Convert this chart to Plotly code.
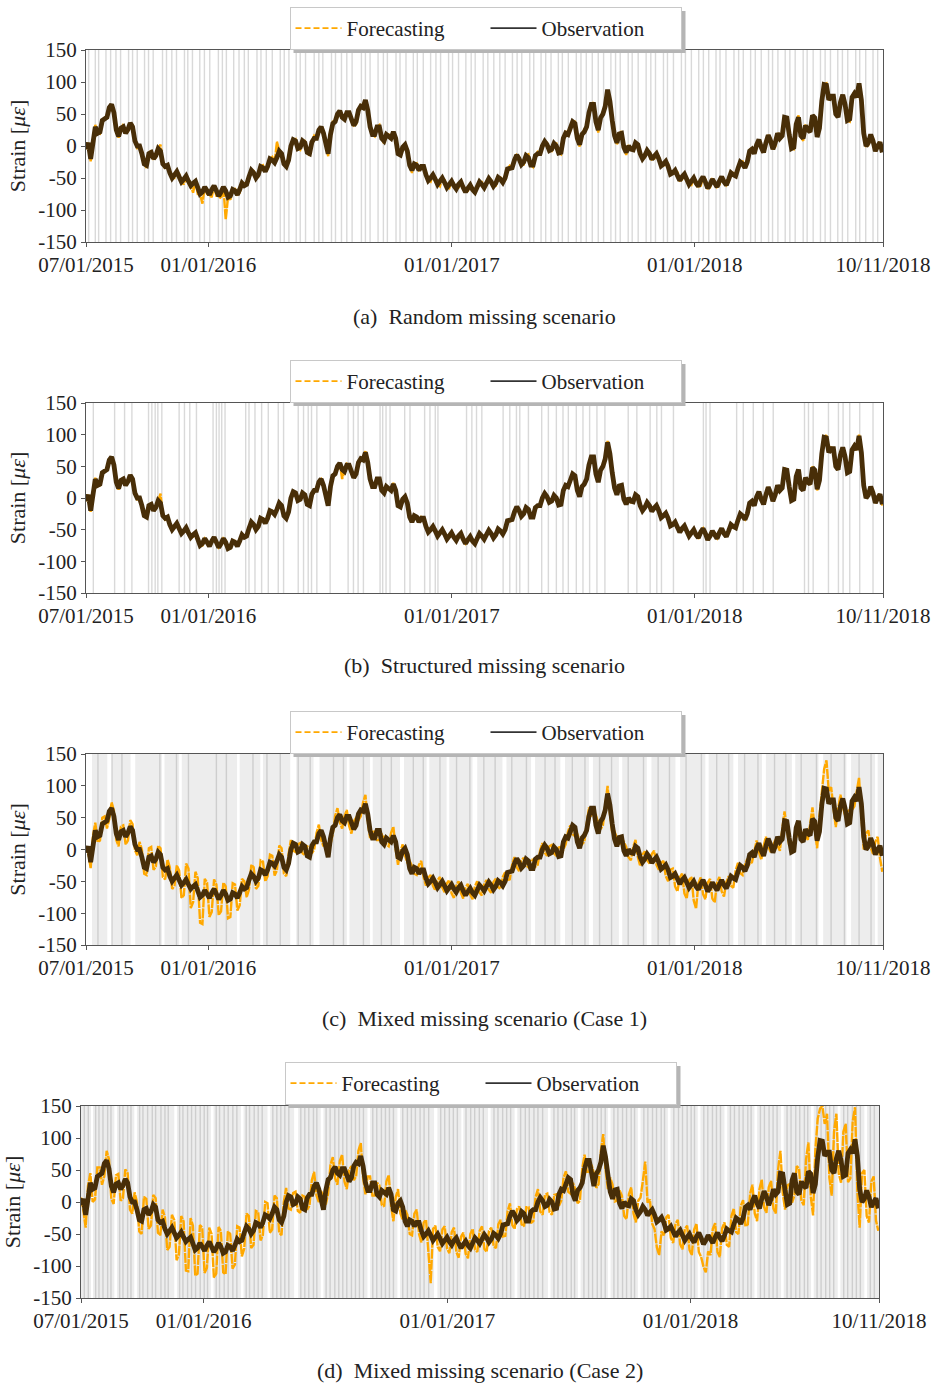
import plotly.graph_objects as go
import pandas as pd

START = "2015-07-01"
END = "2018-10-11"

# Observation (weekly samples), micro-strain
OBS = [
    -5, -20, 30, 22, 42, 60, 52, 15, 30, 26,
    30, 0, -12, -30, -10, -15, -8, -32, -42, -45,
    -48, -52, -55, -58, -65, -72, -70, -68, -70, -72,
    -70, -78, -70, -68, -62, -48, -42, -45, -34, -32,
    -22, -18, -12, -32, 0, 8, -2, 5, -12, 12,
    25, 20, -12, 35, 50, 45, 52, 40, 38, 62,
    72, 30, 18, 30, 8, 15, 22, -12, -2, -8,
    -38, -30, -32, -45, -50, -52, -55, -57, -60, -62,
    -60, -65, -66, -68, -64, -60, -58, -56, -58, -52,
    -50, -35, -22, -20, -25, -18, -30, -12, 0, 2,
    -5, 0, -10, 20, 28, 35, 2, 22, 52, 65,
    25, 50, 88, 40, 5, 20, -10, -5, 5, -12,
    -15, -12, -16, -20, -28, -32, -42, -46, -48, -52,
    -55, -58, -54, -56, -60, -58, -55, -56, -52, -45,
    -35, -28, -25, -5, 2, -2, 5, 8, 5, 12,
    45, 18, -2, 45, 12, 25, 48, 14, 70, 95,
    78, 50, 68, 65, 42, 82, 98, 20, 5, 8,
    0, -10,
]
# Observation half a week after each weekly sample (short-term swings)
OBS_MID = [
    5, 10, 20, 40, 45, 65, 25, 28, 20, 36,
    8, 0, -28, -12, -20, -4, -28, -30, -50, -40,
    -56, -47, -62, -55, -75, -64, -76, -62, -78, -64,
    -80, -68, -76, -58, -60, -38, -50, -32, -40, -20,
    -26, -8, -28, -22, 10, -4, 8, -10, 6, 12,
    30, 0, 18, 38, 55, 42, 52, 32, 56, 60,
    56, 18, 30, 12, 18, 12, 12, -14, 2, -30,
    -28, -38, -32, -54, -45, -60, -50, -65, -55, -67,
    -56, -72, -61, -72, -56, -65, -51, -63, -49, -57,
    -36, -34, -14, -29, -15, -30, -15, -12, 7, -7,
    4, -11, 12, 18, 38, 12, 18, 30, 65, 38,
    44, 62, 70, 16, 19, -2, 0, -6, 2, -20,
    -7, -21, -12, -31, -24, -44, -38, -54, -44, -60,
    -50, -63, -48, -66, -52, -64, -48, -61, -42, -47,
    -25, -34, -8, -12, 10, -10, 17, -5, 20, 16,
    44, -4, 34, 16, 32, 22, 44, 28, 96, 72,
    78, 45, 80, 40, 76, 76, 72, 0, 18, -8,
    6,
]

# Forecast error (forecast - observation) at the weekly samples, per scenario
DEV_A = [
    0, -4, 3, -3, 2, -4, 3, -2, 4, -3,
    3, -3, 4, -4, 3, -3, 10, -4, 3, -5,
    4, -8, 3, -15, -10, -18, -5, -12, -8, -10,
    -45, -6, 3, -5, 4, -4, 3, -3, 4, -3,
    5, 25, -3, 4, -3, 3, -4, 3, -3, 4,
    -3, 3, -4, 3, -5, 4, -3, 3, -4, 3,
    -3, 4, -3, 3, -4, 3, -3, 4, -3, 3,
    -4, 3, -3, 4, -6, 3, -8, 4, -6, 3,
    -5, 3, -4, 3, -3, 4, -3, 3, -4, 3,
    -3, 4, -3, 3, -4, 5, -3, 3, -4, 3,
    -3, 4, -3, 3, -4, 3, -3, 4, -5, 3,
    -4, 3, -3, 4, -3, 3, -4, 3, -3, 4,
    -3, 3, -4, 3, -3, 4, -3, 5, -4, 3,
    -6, 3, -8, 4, -5, 3, -6, 3, -4, 3,
    -3, 4, -3, 3, -4, 3, -3, 4, -6, 3,
    -3, 4, -3, 3, -4, 5, -3, 3, -4, 3,
    -3, 4, -3, 3, -4, 3, -3, 8, -4, 3,
    -3, 4,
]
DEV_B = [
    0, -2, 2, -2, 2, -2, 2, -2, 2, -2,
    2, -2, 2, -2, 2, -2, 15, -2, 2, -2,
    2, -2, 2, -3, 2, -3, 2, -2, 2, -2,
    2, -2, 2, -2, 2, -2, 2, -2, 2, -2,
    2, -2, 2, -2, 2, -2, 2, -2, 2, -2,
    2, -2, 2, -2, 2, -15, 2, -2, 2, -2,
    2, -2, 2, -2, 2, -2, 2, -2, 2, -2,
    2, -2, 2, -2, 2, -2, 2, -2, 2, -2,
    2, -2, 2, -2, 2, -2, 2, -2, 2, -2,
    2, -2, 2, -2, 2, -2, 2, -2, 2, -2,
    2, -2, 2, -2, 2, -2, 2, -2, 2, -2,
    2, -2, 2, -2, 2, -2, 2, -2, 2, -2,
    2, -2, 2, -2, 2, -2, 2, -2, 2, -2,
    2, -3, 2, -3, 2, -2, 2, -2, 2, -2,
    2, -2, 2, -2, 2, -2, 2, -2, 2, -2,
    2, -2, 2, -2, 2, -2, 2, -2, 3, 4,
    2, -2, 2, -2, 2, -2, 2, -2, 2, -2,
    2, -2,
]
DEV_C = [
    8, -10, 12, -8, 10, -12, 9, -10, 8, -12,
    10, -9, 12, -10, 14, -12, 10, -15, 14, -12,
    15, -20, 25, -25, 20, -45, 18, -30, 15, -25,
    12, -28, 15, -20, 12, -15, 14, -12, 15, -10,
    12, -15, 14, -10, 15, -12, 12, -14, 15, -12,
    14, -15, 12, -10, 15, -12, 10, -15, 12, -10,
    14, -12, 10, -15, 12, -10, 14, -12, 10, -12,
    12, -10, 14, -12, 10, -12, 12, -10, 12, -14,
    10, -12, 12, -10, 14, -12, 10, -12, 12, -10,
    14, -12, 10, -14, 12, -10, 14, -12, 10, -12,
    12, -10, 14, -12, 10, -14, 12, -10, 14, -12,
    16, -12, 12, -14, 12, -10, 14, -12, 10, -14,
    12, -10, 14, -12, 10, -18, 12, -20, 10, -25,
    12, -35, 10, -22, 14, -25, 12, -18, 10, -15,
    14, -12, 10, -15, 12, -14, 15, -12, 10, -14,
    15, -12, 14, -15, 12, -10, 18, -12, 25, 45,
    20, -15, 18, -12, 20, -14, 15, -20, 25, -15,
    20, -25,
]
DEV_D = [
    12, -20, 15, -18, 12, -20, 15, -18, 14, -20,
    15, -18, 12, -20, 15, -22, 14, -20, 18, -25,
    20, -30, 25, -50, 28, -40, 30, -35, 20, -40,
    25, -35, 20, -30, 22, -25, 20, -22, 18, -20,
    20, -25, 18, -20, 22, -20, 18, -22, 20, -18,
    22, -20, 18, -22, 20, -18, 22, -20, 18, -22,
    20, -18, 22, -20, 18, -22, 20, -18, 22, -20,
    18, -22, 20, -18, 22, -75, 18, -20, 22, -18,
    20, -22, 18, -20, 22, -18, 20, -22, 18, -20,
    22, -18, 20, -22, 18, -20, 22, -18, 20, -22,
    18, -20, 22, -18, 20, -22, 18, -20, 22, -18,
    20, -22, 18, -20, 22, -18, 20, -22, 18, -20,
    22, 75, 20, -22, -55, -20, 22, -18, 20, -22,
    18, -25, 20, -30, -50, -25, 22, -30, 20, -25,
    25, -22, 28, -30, 25, -28, 30, -25, 28, -30,
    35, -30, 30, -35, 40, -30, 45, -35, 60, 55,
    60, -40, 70, -35, 80, -45, 50, -60, 45, -40,
    40, -35,
]
# Forecast error at the mid-week samples (scenarios c and d; a and b track the observation)
DEV_C_MID = [
    -10, 12, -8, 10, -12, 9, -10, 8, -12, 10,
    -9, 12, -10, 14, -12, 10, -15, 14, -12, 15,
    -20, 25, -30, 20, -40, 18, -30, 15, -25, 12,
    -28, 15, -20, 12, -15, 14, -12, 15, -10, 12,
    -15, 14, -10, 15, -12, 12, -14, 15, -12, 14,
    -15, 12, -10, 15, -12, 10, -15, 12, -10, 14,
    -12, 10, -15, 12, -10, 14, -12, 10, -12, 12,
    -10, 14, -12, 10, -12, 12, -10, 12, -14, 10,
    -12, 12, -10, 14, -12, 10, -12, 12, -10, 14,
    -12, 10, -14, 12, -10, 14, -12, 10, -12, 12,
    -10, 14, -12, 10, -14, 12, -10, 14, -12, 16,
    -12, 12, -14, 12, -10, 14, -12, 10, -14, 12,
    -10, 14, -12, 10, -18, 12, -20, 10, -25, 12,
    -30, 10, -22, 14, -25, 12, -18, 10, -15, 14,
    -12, 10, -15, 12, -14, 15, -12, 10, -14, 15,
    -12, 14, -15, 12, -10, 18, -12, 25, 30, 20,
    -15, 18, -12, 20, -14, 15, -20, 25, -15, 20,
    -20,
]
DEV_D_MID = [
    -18, 15, -20, 14, -18, 15, -20, 14, -18, 15,
    -20, 15, -18, 20, -22, 15, -20, 18, -25, 20,
    -35, 25, -45, 30, -40, 28, -35, 22, -40, 25,
    -30, 22, -28, 20, -25, 20, -22, 18, -20, 20,
    -22, 18, -20, 22, -20, 18, -22, 20, -18, 22,
    -20, 18, -22, 20, -18, 22, -20, 18, -22, 20,
    -18, 22, -20, 18, -22, 20, -18, 22, -20, 18,
    -22, 20, -18, 22, -40, 18, -20, 22, -18, 20,
    -22, 18, -20, 22, -18, 20, -22, 18, -20, 22,
    -18, 20, -22, 18, -20, 22, -18, 20, -22, 18,
    -20, 22, -18, 20, -22, 18, -20, 22, -18, 20,
    -22, 18, -20, 22, -18, 20, -22, 18, -20, 22,
    40, 20, -22, -40, -22, 20, -18, 20, -22, 18,
    -25, 20, -30, -35, -25, 22, -30, 20, -25, 25,
    -22, 28, -30, 25, -28, 30, -25, 28, -30, 35,
    -30, 30, -35, 40, -30, 45, -35, 55, 50, 50,
    -40, 65, -35, 70, -45, 50, -55, 45, -40, 40,
    -35,
]

# Missing-data markers: day offsets from START
MISSING_A_DAYS = [
    4, 14, 19, 30, 37, 45, 52, 64, 70, 77, 88, 94, 101, 115, 121, 129, 136, 148,
    153, 160, 171, 178, 186, 199, 205, 211, 222, 230, 238, 244, 257, 263, 271, 280,
    292, 298, 305, 316, 322, 330, 343, 350, 356, 369, 375, 384, 392, 400, 414, 420,
    427, 439, 447, 453, 466, 472, 481, 492, 498, 507, 518, 526, 533, 545, 551, 560,
    571, 579, 585, 597, 604, 613, 622, 630, 641, 648, 655, 667, 673, 684, 691, 699,
    710, 716, 725, 737, 744, 752, 761, 770, 778, 789, 796, 803, 815, 821, 830, 842,
    849, 856, 868, 874, 883, 895, 901, 910, 921, 928, 936, 947, 953, 962, 974, 981,
    988, 999, 1006, 1015, 1026, 1032, 1040, 1051, 1058, 1066, 1078, 1084, 1093,
    1104, 1111, 1119, 1130, 1137, 1145, 1157, 1163, 1172, 1183, 1190,
]
MISSING_B_DAYS = [
    11, 43, 58, 69, 94, 99, 104, 108, 114, 140, 148, 156, 166, 191, 196, 200, 204,
    209, 240, 245, 254, 264, 274, 289, 297, 319, 327, 334, 339, 347, 367, 394, 402,
    409, 417, 442, 446, 451, 457, 479, 487, 509, 517, 525, 529, 572, 580, 587, 595,
    627, 637, 647, 652, 665, 685, 695, 707, 717, 725, 737, 747, 757, 768, 780, 815,
    828, 848, 858, 865, 883, 928, 932, 938, 978, 988, 1003, 1018, 1033, 1080, 1086,
    1093, 1116, 1131, 1138, 1148, 1163, 1183,
]
MISSING_C_SPANS = [
    [9, 31], [39, 66], [74, 113], [118, 139], [144, 226], [231, 261], [266, 306],
    [316, 341], [351, 391], [396, 426], [431, 471], [478, 511], [516, 541],
    [546, 580], [588, 625], [632, 668], [675, 712], [720, 755], [762, 800],
    [806, 842], [850, 885], [893, 930], [936, 972], [980, 1015], [1022, 1060],
    [1066, 1100], [1108, 1142], [1150, 1185], [1190, 1197],
]
MISSING_C_DAYS = [
    18, 39, 54, 111, 136, 154, 196, 211, 251, 272, 292, 319, 337, 372, 387, 417,
    444, 459, 492, 507, 532, 557, 577, 598, 615, 640, 662, 690, 705, 731, 750, 772,
    790, 815, 838, 860, 877, 902, 925, 948, 966, 990, 1010, 1035, 1052, 1075, 1098,
    1120, 1140, 1162, 1180,
]
MISSING_D_SPANS = [
    [0, 14], [18, 49], [54, 79], [84, 139], [144, 194], [199, 239], [244, 279],
    [284, 319], [326, 359], [364, 429], [434, 474], [479, 529], [535, 570],
    [574, 610], [615, 650], [655, 700], [705, 745], [750, 790], [795, 835],
    [840, 880], [885, 925], [930, 965], [970, 1010], [1015, 1050], [1055, 1095],
    [1100, 1135], [1140, 1175], [1180, 1197],
]
MISSING_D_DAYS = [
    5, 11, 22, 27, 33, 40, 45, 58, 63, 70, 75, 88, 93, 100, 107, 112, 120, 126, 131,
    148, 153, 160, 166, 172, 179, 185, 190, 203, 208, 215, 221, 228, 234, 248, 253,
    260, 266, 272, 288, 294, 300, 306, 312, 330, 336, 342, 349, 354, 368, 374, 381,
    387, 393, 399, 406, 412, 418, 424, 438, 444, 451, 457, 463, 469, 483, 490, 496,
    502, 509, 515, 522, 540, 546, 553, 559, 565, 578, 585, 591, 598, 604, 620, 626,
    633, 639, 645, 660, 667, 673, 680, 686, 693, 710, 716, 723, 729, 736, 741, 755,
    762, 768, 775, 781, 787, 800, 806, 813, 819, 826, 831, 845, 851, 858, 864, 871,
    876, 890, 897, 903, 910, 916, 921, 935, 941, 948, 954, 960, 975, 981, 988, 994,
    1001, 1006, 1020, 1026, 1033, 1039, 1045, 1060, 1066, 1073, 1079, 1086, 1091,
    1105, 1111, 1118, 1124, 1130, 1145, 1151, 1158, 1164, 1170, 1185, 1191,
]

X_TICK_DATES = ["2015-07-01", "2016-01-01", "2017-01-01", "2018-01-01", "2018-10-11"]
X_TICK_TEXT = ["07/01/2015", "01/01/2016", "01/01/2017", "01/01/2018", "10/11/2018"]
Y_TICKS = [-150, -100, -50, 0, 50, 100, 150]
Y_TICK_TEXT = ["-150", "-100", "-50", "0", "50", "100", "150"]
CAPTIONS = [
    "(a)  Random missing scenario",
    "(b)  Structured missing scenario",
    "(c)  Mixed missing scenario (Case 1)",
    "(d)  Mixed missing scenario (Case 2)",
]

W, H = 937, 1385
FONT = "Liberation Serif"
OBS_COLOR = "rgb(72,46,8)"
FC_COLOR = "#FFA800"
ENTRY_W = 134
ITEM_W = 46
LEG_H = 42

start_ts = pd.Timestamp(START)
week_dates = pd.date_range(START, periods=len(OBS), freq="7D")
mid_dates = week_dates[:len(OBS_MID)] + pd.Timedelta(hours=84)


def day(d):
    return start_ts + pd.Timedelta(days=d)


def interleave(a, b):
    out = []
    for k in range(len(a)):
        out.append(a[k])
        if k < len(b):
            out.append(b[k])
    return out


x_hi = interleave(list(week_dates), list(mid_dates))
obs_hi = interleave(OBS, OBS_MID)
zero_mid = [0] * len(OBS_MID)

panels = [
    dict(dev=DEV_A, dev_mid=zero_mid, days=MISSING_A_DAYS, spans=[], px=(86, 883), py=(50, 242), leg=(485.5, 7)),
    dict(dev=DEV_B, dev_mid=zero_mid, days=MISSING_B_DAYS, spans=[], px=(86, 883), py=(403, 593), leg=(485.5, 360)),
    dict(dev=DEV_C, dev_mid=DEV_C_MID, days=MISSING_C_DAYS, spans=MISSING_C_SPANS, px=(86, 883), py=(754, 945), leg=(485.5, 711)),
    dict(dev=DEV_D, dev_mid=DEV_D_MID, days=MISSING_D_DAYS, spans=MISSING_D_SPANS, px=(81, 879), py=(1106, 1298), leg=(480.5, 1062)),
]
caption_y = [316, 666, 1018, 1370]

fig = go.Figure()
shapes = []
layout = dict(
    width=W, height=H, margin=dict(l=0, r=0, t=0, b=0, autoexpand=False),
    paper_bgcolor="white", plot_bgcolor="white",
    font=dict(family=FONT, size=21, color="#222"),
    annotations=[],
)

for i, p in enumerate(panels, start=1):
    sfx = "" if i == 1 else str(i)
    xa, ya = "x" + sfx, "y" + sfx
    leg = "legend" + sfx
    for s, e in p["spans"]:
        shapes.append(dict(type="rect", xref=xa, yref=ya + " domain", x0=day(s), x1=day(e + 1),
                           y0=0, y1=1, fillcolor="rgba(175,175,175,0.22)", line=dict(width=0), layer="below"))
    lx, ly = [], []
    for d in p["days"]:
        lx += [day(d), day(d), None]
        ly += [-150, 150, None]
    fig.add_trace(go.Scatter(x=lx, y=ly, xaxis=xa, yaxis=ya, mode="lines",
                             line=dict(color="rgba(165,165,165,0.42)", width=1.4),
                             showlegend=False, hoverinfo="skip"))
    fc_week = [o + d for o, d in zip(OBS, p["dev"])]
    fc_mid = [o + d for o, d in zip(OBS_MID, p["dev_mid"])]
    fc_hi = interleave(fc_week, fc_mid)
    fig.add_trace(go.Scatter(x=x_hi, y=fc_hi, xaxis=xa, yaxis=ya, mode="lines",
                             line=dict(color=FC_COLOR, width=2.4, dash="10px,1px"),
                             showlegend=False, hoverinfo="skip"))
    fig.add_trace(go.Scatter(x=x_hi, y=obs_hi, xaxis=xa, yaxis=ya, mode="lines",
                             line=dict(color=OBS_COLOR, width=4.8),
                             showlegend=False, hoverinfo="skip"))
    fig.add_trace(go.Scatter(x=[None], y=[None], xaxis=xa, yaxis=ya, mode="lines", name="Forecasting",
                             line=dict(color=FC_COLOR, width=1.8, dash="6px,3px"), legend=leg))
    fig.add_trace(go.Scatter(x=[None], y=[None], xaxis=xa, yaxis=ya, mode="lines", name="Observation",
                             line=dict(color="#333", width=1.8), legend=leg))

    x0, x1 = p["px"][0] / W, p["px"][1] / W
    y0, y1 = 1 - p["py"][1] / H, 1 - p["py"][0] / H
    axis_common = dict(showline=True, mirror=True, linecolor="#555", linewidth=1.3,
                       ticks="outside", ticklen=4, tickcolor="#555", showgrid=False, zeroline=False,
                       automargin=False, tickfont=dict(family=FONT, size=21, color="#222"))
    layout["xaxis" + sfx] = dict(domain=[x0, x1], anchor=ya, type="date",
                                 range=[START, END], tickvals=X_TICK_DATES, ticktext=X_TICK_TEXT,
                                 **axis_common)
    layout["yaxis" + sfx] = dict(domain=[y0, y1], anchor=xa, range=[-150, 150],
                                 tickvals=Y_TICKS, ticktext=Y_TICK_TEXT,
                                 title=dict(text="Strain [<i>με</i>]", font=dict(family=FONT, size=22),
                                            standoff=6),
                                 **axis_common)
    cx, top = p["leg"]
    half = ENTRY_W + ITEM_W + 16
    layout[leg] = dict(orientation="h", x=cx / W, xanchor="center",
                       y=1 - top / H, yanchor="top",
                       bgcolor="white", bordercolor="#c8c8c8", borderwidth=1,
                       font=dict(family=FONT, size=21, color="#222"),
                       entrywidth=ENTRY_W, itemwidth=ITEM_W)
    # legend drop shadow
    shapes.append(dict(type="rect", xref="paper", yref="paper",
                       x0=(cx - half + 4) / W, x1=(cx + half + 4) / W,
                       y0=1 - (top + LEG_H + 4) / H, y1=1 - (top + 4) / H,
                       fillcolor="#b5b5b5", line=dict(width=0), layer="above"))
    layout["annotations"].append(dict(text=CAPTIONS[i - 1], x=(p["px"][0] + p["px"][1]) / 2 / W,
                                      y=1 - caption_y[i - 1] / H, xref="paper", yref="paper",
                                      xanchor="center", yanchor="middle",
                                      showarrow=False, font=dict(family=FONT, size=22, color="#222")))

layout["shapes"] = shapes
fig.update_layout(**layout)
fig.write_html("out.html")
